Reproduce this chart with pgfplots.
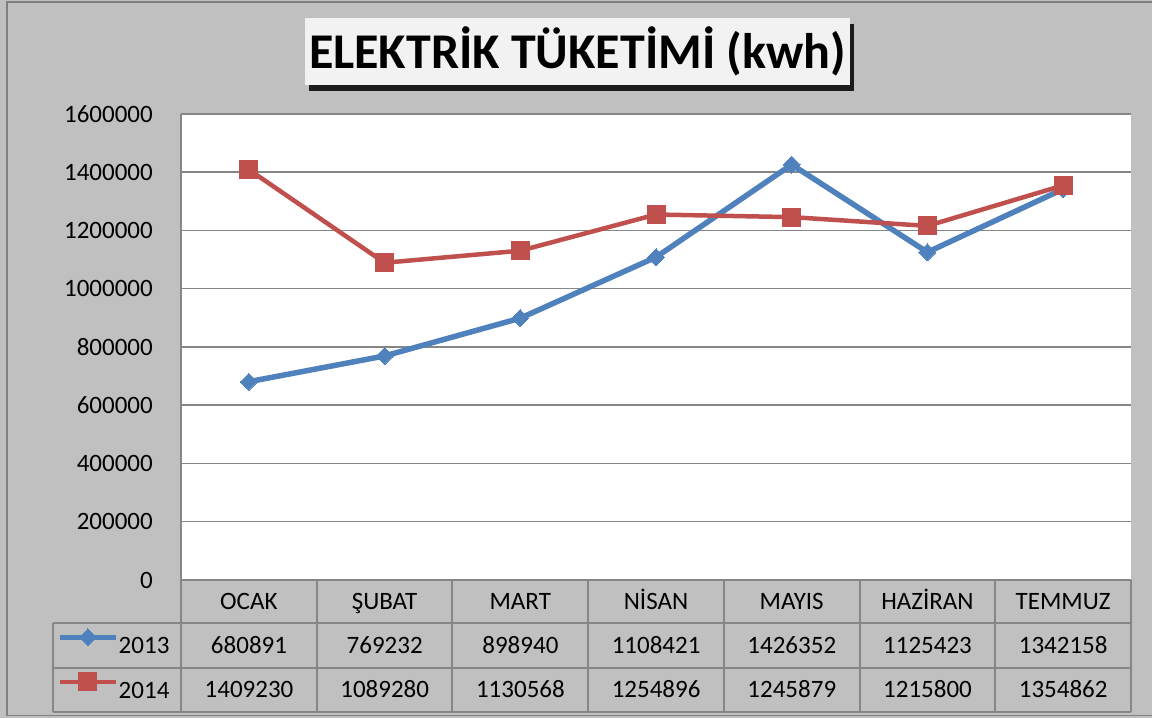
\documentclass[border=0pt]{standalone}
\usepackage{fontspec}
\setmainfont{Carlito}
\usepackage{pgfplots}
\pgfplotsset{compat=1.18}
\usetikzlibrary{shadows}

\definecolor{bg}{HTML}{C0C0C0}
\definecolor{frame}{HTML}{808080}
\definecolor{gridc}{HTML}{868686}
\definecolor{titlebg}{HTML}{F2F2F2}
\definecolor{s13}{HTML}{4F81BD}
\definecolor{s14}{HTML}{C0504D}

\begin{document}
\begin{tikzpicture}[x=1pt,y=1pt]
% background and outer frame (image coords, y flipped)
\fill[bg] (0,0) rectangle (1152,718);
\path[use as bounding box] (0,0) rectangle (1152,718);
\draw[frame, line width=2pt] (7,2) -- (7,716) -- (1152,716);
\draw[frame, line width=1pt] (7,2.5) -- (1152,2.5);

\begin{axis}[
    at={(181pt,138pt)}, anchor=south west,
    scale only axis,
    width=950pt, height=466pt,
    xmin=0.5, xmax=7.5,
    ymin=0, ymax=1600000,
    ytick={0,200000,...,1600000},
    xtick={1,...,7},
    xticklabels={OCAK,ŞUBAT,MART,NİSAN,MAYIS,HAZİRAN,TEMMUZ},
    scaled y ticks=false,
    yticklabel={\pgfmathprintnumber[fixed,precision=0,1000 sep={}]{\tick}},
    /pgf/number format/assume math mode=true,
    ticklabel style={font=\fontsize{25}{30}\selectfont},
    yticklabel style={anchor=east, inner sep=0pt, xshift=-28pt},
    xticklabel style={anchor=base, inner sep=0pt, yshift=-30pt},
    major tick length=0pt,
    ymajorgrids,
    grid style={gridc, line width=1.5pt},
    axis background/.style={fill=white},
    separate axis lines,
    axis x line*=bottom, axis y line*=left,
    axis line style={gridc, line width=1.5pt, -},
    clip=false,
    legend style={at={(-0.1305,-0.0923)}, anchor=north west,
        draw=none, fill=none, inner sep=0pt, row sep=0pt,
        nodes={inner sep=0pt, text height=30.5pt, text depth=14pt,
               font=\fontsize{25}{30}\selectfont}},
    legend cell align=left,
    legend image code/.code={%
        \draw[#1, mark repeat=2, mark phase=2]
            plot coordinates {(0pt,8pt) (28pt,8pt) (56pt,8pt)};},
]
\addplot[s13, line width=5.5pt, mark=square*, mark size=6pt,
    mark options={rotate=45, line width=0pt, fill=s13}]
    coordinates {(1,680891) (2,769232) (3,898940) (4,1108421)
                 (5,1426352) (6,1125423) (7,1342158)};
\addlegendentry{2013}
\addplot[s14, line width=4.5pt, mark=square*, mark size=9pt,
    mark options={line width=0pt, fill=s14}]
    coordinates {(1,1409230) (2,1089280) (3,1130568) (4,1254896)
                 (5,1245879) (6,1215800) (7,1354862)};
\addlegendentry{2014}
\end{axis}

% data table grid
\begin{scope}[gridc, line width=1.5pt]
\foreach \yy in {95,50,6} \draw (53,\yy) -- (1131,\yy);
\draw (53,95) -- (53,6);
\foreach \xx in {181,317,452,588,724,860,995,1131} \draw (\xx,138) -- (\xx,6);
\end{scope}

% data table values
\def\rowA{{680891,769232,898940,1108421,1426352,1125423,1342158}}
\foreach \v [count=\i from 0] in {680891,769232,898940,1108421,1426352,1125423,1342158}
  \node[anchor=base, inner sep=0pt, font=\fontsize{25}{30}\selectfont]
    at ({249+135.7*\i},64.5) {\v};
\foreach \v [count=\i from 0] in {1409230,1089280,1130568,1254896,1245879,1215800,1354862}
  \node[anchor=base, inner sep=0pt, font=\fontsize{25}{30}\selectfont]
    at ({249+135.7*\i},20) {\v};

% title
\node[fill=titlebg, minimum width=545pt, minimum height=67pt, inner sep=0pt,
      drop shadow={shadow xshift=4pt, shadow yshift=-6pt, opacity=0.85, fill=black},
      font=\fontsize{50}{60}\selectfont\bfseries]
    at (577.5,666.5) {ELEKTRİK TÜKETİMİ (kwh)};
\end{tikzpicture}
\end{document}
